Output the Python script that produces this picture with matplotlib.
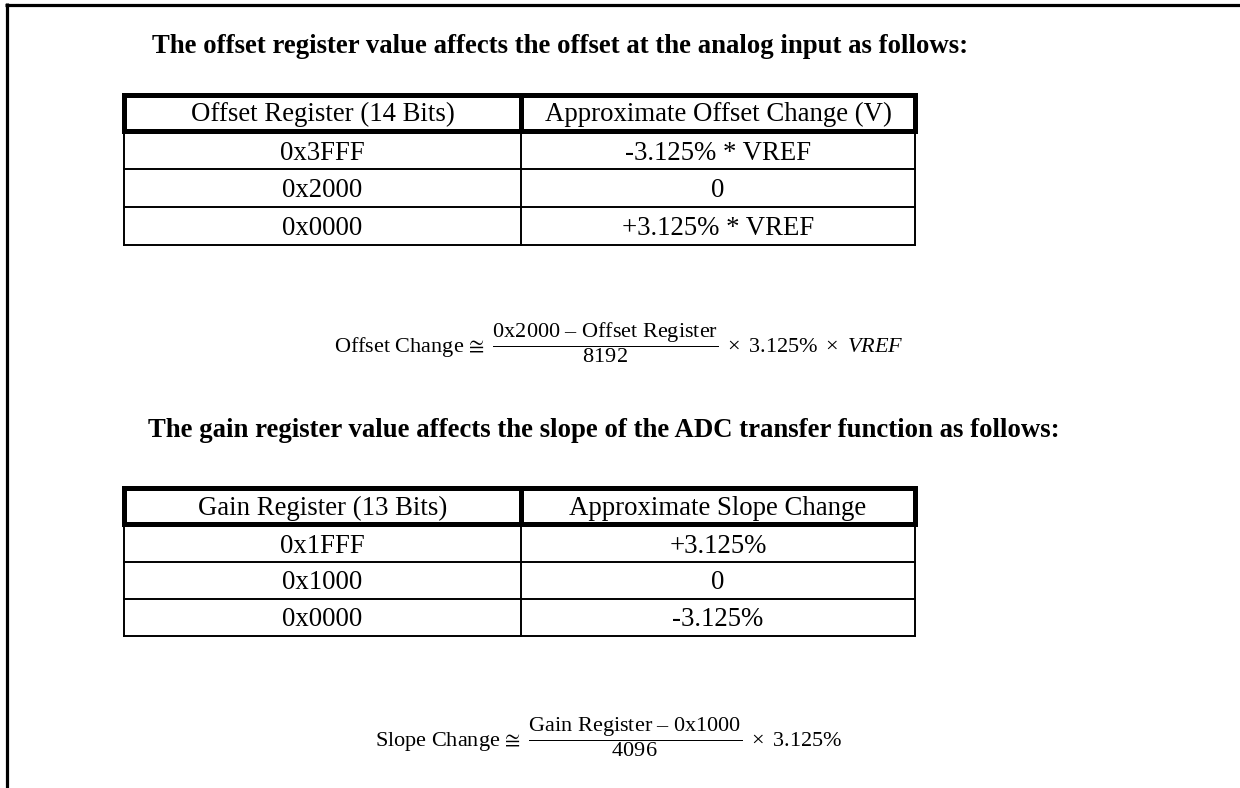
import matplotlib
matplotlib.use("Agg")
import matplotlib.pyplot as plt

plt.rcParams['mathtext.fontset'] = 'custom'
plt.rcParams['mathtext.rm'] = 'Liberation Serif'
plt.rcParams['mathtext.it'] = 'Liberation Serif:italic'
plt.rcParams['mathtext.bf'] = 'Liberation Serif:bold'

SERIF = 'Liberation Serif'

# ---- content ----
title1 = "The offset register value affects the offset at the analog input as follows:"
header1 = ["Offset Register (14 Bits)", "Approximate Offset Change (V)"]
col1_t1 = ["0x3FFF", "0x2000", "0x0000"]
col2_t1 = ["-3.125% * VREF", "0", "+3.125% * VREF"]
formula1 = (r"$\mathrm{Offset\ Change}\,\cong\ \dfrac{\mathrm{0x2000\ –\ Offset\ Register}}"
            r"{\mathrm{8192}}\ \times\ \mathrm{3.125\%}\ \times\ VREF$")

title2 = "The gain register value affects the slope of the ADC transfer function as follows:"
header2 = ["Gain Register (13 Bits)", "Approximate Slope Change"]
col1_t2 = ["0x1FFF", "0x1000", "0x0000"]
col2_t2 = ["+3.125%", "0", "-3.125%"]
formula2 = (r"$\mathrm{Slope\ Change}\,\cong\ \dfrac{\mathrm{Gain\ Register\ –\ 0x1000}}"
            r"{\mathrm{4096}}\ \times\ \mathrm{3.125\%}$")

W, H = 1240, 788
fig = plt.figure(figsize=(W / 100, H / 100), dpi=100)
ax = fig.add_axes([0, 0, 1, 1])
ax.set_xlim(0, W)
ax.set_ylim(H, 0)
ax.axis('off')

# outer frame (top + left)
ax.plot([5, W], [4.5, 4.5], color='black', lw=2.3, solid_capstyle='butt')
ax.plot([6.5, 6.5], [3, H], color='black', lw=2.3, solid_capstyle='butt')

FS = 19.3
CAP = 0.662 * FS * 100 / 72  # cap height in px


def draw_table(top, header, c1, c2, rows_y, x0=124, xm=521, x1=915, hb=None):
    bottom = rows_y[-1]
    thin = 1.4
    for y in rows_y:
        ax.plot([x0, x1], [y, y], color='black', lw=thin, solid_capstyle='projecting')
    for x in (x0, xm, x1):
        ax.plot([x, x], [hb, bottom], color='black', lw=thin, solid_capstyle='projecting')
    thick = 3.6
    ax.plot([x0, x1, x1, x0, x0], [top, top, hb, hb, top], color='black', lw=thick,
            solid_joinstyle='miter')
    ax.plot([xm, xm], [top, hb], color='black', lw=thick)
    cy = (top + hb) / 2
    ax.text((x0 + xm) / 2, cy + CAP / 2, header[0], ha='center', va='baseline',
            family=SERIF, fontsize=FS)
    ax.text((xm + x1) / 2, cy + CAP / 2, header[1], ha='center', va='baseline',
            family=SERIF, fontsize=FS)
    prev = hb + 2
    for a, b, y in zip(c1, c2, rows_y):
        cy = (prev + y) / 2
        ax.text((x0 + xm) / 2, cy + CAP / 2, a, ha='center', va='baseline', family=SERIF, fontsize=FS)
        ax.text((xm + x1) / 2, cy + CAP / 2, b, ha='center', va='baseline', family=SERIF, fontsize=FS)
        prev = y


ax.text(152, 53, title1, ha='left', va='baseline', family=SERIF, fontweight='bold', fontsize=19.3)
draw_table(94.5, header1, col1_t1, col2_t1, rows_y=[169, 207, 245], hb=130.5)
ax.text(619, 352, formula1, ha='center', va='baseline', fontsize=16)

ax.text(148, 437, title2, ha='left', va='baseline', family=SERIF, fontweight='bold', fontsize=19.3)
draw_table(488, header2, col1_t2, col2_t2, rows_y=[562, 599, 636], hb=524)
ax.text(609, 746, formula2, ha='center', va='baseline', fontsize=16)

fig.savefig('out.png', dpi=100)
